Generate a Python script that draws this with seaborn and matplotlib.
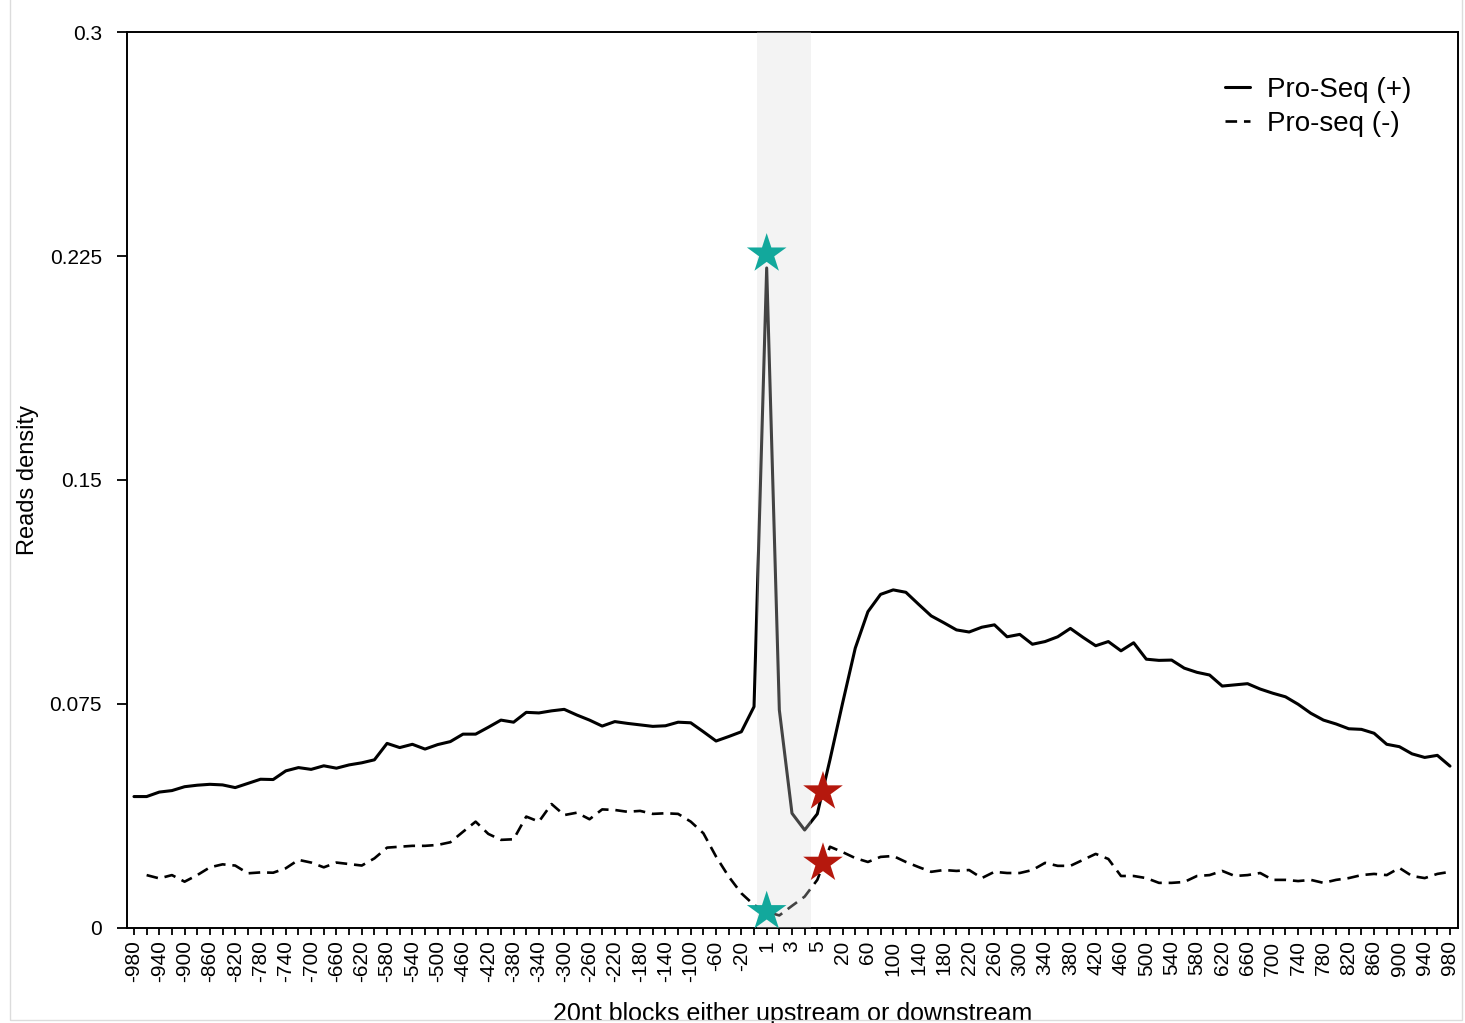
import numpy as np
import pandas as pd
import matplotlib
matplotlib.use("Agg")
import matplotlib.pyplot as plt
import seaborn as sns
from matplotlib.lines import Line2D

# ---------------- data ----------------
upstream = [str(v) for v in range(-980, 0, 20)]      # -980 ... -20
core = ["0", "1", "2", "3", "4", "5", "10"]
downstream = [str(v) for v in range(20, 1000, 20)]   # 20 ... 980
categories = upstream + core + downstream

pro_plus = [
    0.0440, 0.0440, 0.0455, 0.0460, 0.0473, 0.0478, 0.0481, 0.0479, 0.0470, 0.0484,
    0.0498, 0.0497, 0.0526, 0.0537, 0.0531, 0.0543, 0.0535, 0.0546, 0.0553, 0.0563,
    0.0618, 0.0604, 0.0615, 0.0599, 0.0614, 0.0624, 0.0649, 0.0649, 0.0672, 0.0696,
    0.0689, 0.0722, 0.0720, 0.0727, 0.0732, 0.0713, 0.0696, 0.0676, 0.0691, 0.0685,
    0.0680, 0.0675, 0.0677, 0.0689, 0.0687, 0.0657, 0.0626, 0.0641, 0.0657, 0.0741,
    0.2210, 0.0730, 0.0384, 0.0328, 0.0382, 0.0563, 0.0753, 0.0937, 0.1059, 0.1117,
    0.1132, 0.1124, 0.1084, 0.1045, 0.1022, 0.0998, 0.0991, 0.1007, 0.1015, 0.0975,
    0.0983, 0.0950, 0.0959, 0.0975, 0.1003, 0.0973, 0.0945, 0.0959, 0.0928, 0.0955,
    0.0900, 0.0896, 0.0897, 0.0870, 0.0856, 0.0847, 0.0810, 0.0814, 0.0818, 0.0800,
    0.0786, 0.0774, 0.0749, 0.0719, 0.0696, 0.0683, 0.0667, 0.0665, 0.0652, 0.0615,
    0.0607, 0.0583, 0.0571, 0.0578, 0.0542,
]

pro_minus = [
    np.nan, 0.0177, 0.0166, 0.0177, 0.0155, 0.0177, 0.0203, 0.0213, 0.0209, 0.0183,
    0.0186, 0.0185, 0.0200, 0.0228, 0.0219, 0.0203, 0.0219, 0.0214, 0.0209, 0.0233,
    0.0269, 0.0272, 0.0275, 0.0275, 0.0278, 0.0287, 0.0322, 0.0356, 0.0315, 0.0295,
    0.0297, 0.0373, 0.0356, 0.0415, 0.0378, 0.0386, 0.0364, 0.0397, 0.0395, 0.0389,
    0.0392, 0.0382, 0.0384, 0.0382, 0.0356, 0.0317, 0.0239, 0.0172, 0.0116, 0.0077,
    0.0054, 0.0042, 0.0074, 0.0105, 0.0161, 0.0272, 0.0254, 0.0234, 0.0221, 0.0238,
    0.0241, 0.0221, 0.0204, 0.0188, 0.0194, 0.0191, 0.0194, 0.0167, 0.0188, 0.0184,
    0.0184, 0.0194, 0.0218, 0.0208, 0.0208, 0.0228, 0.0248, 0.0231, 0.0174, 0.0174,
    0.0167, 0.0151, 0.0151, 0.0154, 0.0174, 0.0177, 0.0191, 0.0174, 0.0177, 0.0184,
    0.0161, 0.0161, 0.0157, 0.0161, 0.0151, 0.0161, 0.0167, 0.0177, 0.0181, 0.0177,
    0.0201, 0.0174, 0.0167, 0.0181, 0.0188,
]

series_names = ["Pro-Seq (+)", "Pro-seq (-)"]

# highlighted markers (category, offset towards next block, value)
teal_star_cat = ["1", "1"]
teal_star_val = [0.2257, 0.0055]
red_star_cat = ["5", "5"]
red_star_val = [0.0456, 0.0217]
star_offset = 0.45

shade_from, shade_to = "1", "4"

y_ticks = [0, 0.075, 0.15, 0.225, 0.3]
y_tick_labels = ["0", "0.075", "0.15", "0.225", "0.3"]

# ---------------- plot ----------------
sns.set_style("ticks")
plt.rcParams["font.family"] = ["Liberation Sans", "DejaVu Sans"]
for k in ["text.color", "axes.labelcolor", "xtick.color", "ytick.color", "axes.edgecolor"]:
    plt.rcParams[k] = "black"

pos = np.arange(len(categories))
df = pd.DataFrame({"pos": pos, "plus": pro_plus, "minus": pro_minus})

fig = plt.figure(figsize=(14.65, 10.23), dpi=100)
ax = fig.add_axes([0.0867, 0.0929, 0.9085, 0.8758])

DASH = (4.4, 2.6)
sns.lineplot(data=df, x="pos", y="plus", ax=ax, color="black", lw=2.2,
             label=series_names[0], zorder=2)
sns.lineplot(data=df.dropna(), x="pos", y="minus", ax=ax, color="black", lw=1.9,
             label=series_names[1], zorder=2)
ax.lines[1].set_dashes(DASH)

i0 = categories.index(shade_from)
i1 = categories.index(shade_to)
ax.axvspan(i0 - 0.75, i1 + 0.5, color=(0.85, 0.85, 0.85), alpha=0.31, lw=0, zorder=3)

tx = [categories.index(c) for c in teal_star_cat]
rx = [categories.index(c) + star_offset for c in red_star_cat]
sns.scatterplot(x=tx, y=teal_star_val, ax=ax, marker="*", s=900, color="#12a89c",
                edgecolor="none", zorder=4, legend=False)
sns.scatterplot(x=rx, y=red_star_val, ax=ax, marker="*", s=900, color="#b5180d",
                edgecolor="none", zorder=4, legend=False)

ax.set_xlim(-0.55, len(categories) - 1 + 0.63)
ax.set_ylim(0, 0.3)
ax.set_xticks(pos)
ax.set_xticklabels([c if i % 2 == 0 else "" for i, c in enumerate(categories)],
                   rotation=90, fontsize=15)
ax.set_yticks(y_ticks)
ax.set_yticklabels(y_tick_labels, fontsize=15)
ax.tick_params(axis="x", direction="out", length=5, width=1.3, pad=4, color="black")
ax.tick_params(axis="y", direction="out", length=7, width=1.3, pad=11, color="black")

for s in ax.spines.values():
    s.set_visible(True)
    s.set_color("black")
    s.set_linewidth(1.4)

ax.set_xlabel("20nt blocks either upstream or downstream", fontsize=18, labelpad=14)
ax.set_ylabel("Reads density", fontsize=17, labelpad=7.5)

handles = [Line2D([], [], color="black", lw=2.2),
           Line2D([], [], color="black", lw=1.9, dashes=DASH)]
leg = ax.legend(handles, series_names, loc="upper left", bbox_to_anchor=(0.825, 0.950),
                frameon=False, fontsize=20, handlelength=0.9, handletextpad=0.6,
                labelspacing=0.3, borderpad=0, borderaxespad=0)

# faint outer frame seen around the original figure
fig.add_artist(plt.Rectangle((10 / 1465, 3 / 1023), 1452 / 1465, 1.2,
                             transform=fig.transFigure, fill=False,
                             edgecolor="#dcdcdc", lw=1.0))

fig.savefig("out.png", dpi=100)
